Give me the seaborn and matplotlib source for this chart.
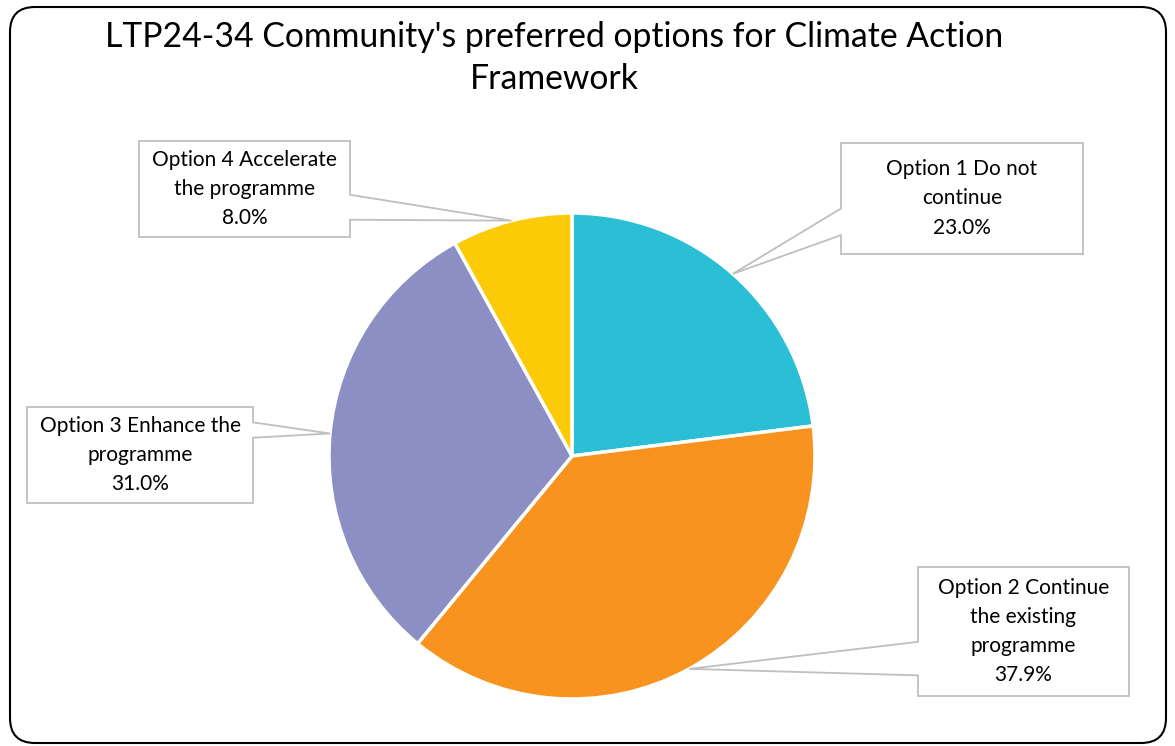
import numpy as np
import matplotlib.pyplot as plt
import seaborn as sns
from matplotlib.patches import Polygon, FancyBboxPatch

# data
options = ['Option 1 Do not\ncontinue',
           'Option 2 Continue\nthe existing\nprogramme',
           'Option 3 Enhance the\nprogramme',
           'Option 4 Accelerate\nthe programme']
shares = [23.0, 37.9, 31.0, 8.0]
colors = ['#2BBFD6', '#F7931E', '#8B8FC4', '#FDCA08']

# label boxes in pixels (left, top, right, bottom), side of pointer, pointer attach fractions
boxes = [(841, 143, 1083, 254), (918, 567, 1129, 696), (27, 407, 253, 503), (139, 141, 350, 237)]
sides = ['left', 'left', 'right', 'right']
attach = [(0.59, 0.83), (0.58, 0.84), (0.16, 0.32), (0.56, 0.82)]

sns.set_theme(style='white')
plt.rcParams['font.family'] = ['Lato', 'DejaVu Sans']

W, H = 1175, 746
fig = plt.figure(figsize=(W / 100, H / 100), dpi=100)
cx, cy, r = 572, 456, 243
ax = fig.add_axes([(cx - r) / W, (H - cy - r) / H, 2 * r / W, 2 * r / H])

wedges, _ = ax.pie(shares, colors=sns.color_palette(colors), startangle=90, counterclock=False,
                   wedgeprops=dict(edgecolor='white', linewidth=2.5))
ax.set_xlim(-1, 1)
ax.set_ylim(-1, 1)
ax.axis('off')


def px2d(px, py):
    return ((px - cx) / r, (cy - py) / r)


for w, lab, v, (L, T, R, B), side, (f1, f2) in zip(wedges, options, shares, boxes, sides, attach):
    mid = np.deg2rad((w.theta1 + w.theta2) / 2)
    tip = (np.cos(mid), np.sin(mid))
    y1 = T + f1 * (B - T)
    y2 = T + f2 * (B - T)
    if side == 'right':
        pts = [px2d(L, T), px2d(R, T), px2d(R, y1), tip, px2d(R, y2), px2d(R, B), px2d(L, B)]
    else:
        pts = [px2d(L, T), px2d(R, T), px2d(R, B), px2d(L, B), px2d(L, y2), tip, px2d(L, y1)]
    ax.add_patch(Polygon(pts, closed=True, facecolor='white', edgecolor='#BFBFBF',
                         linewidth=1.3, clip_on=False, zorder=5))
    tx, ty = px2d((L + R) / 2, (T + B) / 2)
    ax.text(tx, ty, f'{lab}\n{v:.1f}%', ha='center', va='center', fontsize=15,
            linespacing=1.58, color='black', zorder=6)

fig.text(554 / W, 1 - 58 / H, "LTP24-34 Community's preferred options for Climate Action\nFramework",
         ha='center', va='center', fontsize=24.3, linespacing=1.4, color='black')

fig.patches.append(FancyBboxPatch((10, 3), 1156, 736, boxstyle='round,pad=0,rounding_size=25',
                                  transform=None, facecolor='none', edgecolor='black', linewidth=1.5))

fig.savefig('out.png', dpi=100)
